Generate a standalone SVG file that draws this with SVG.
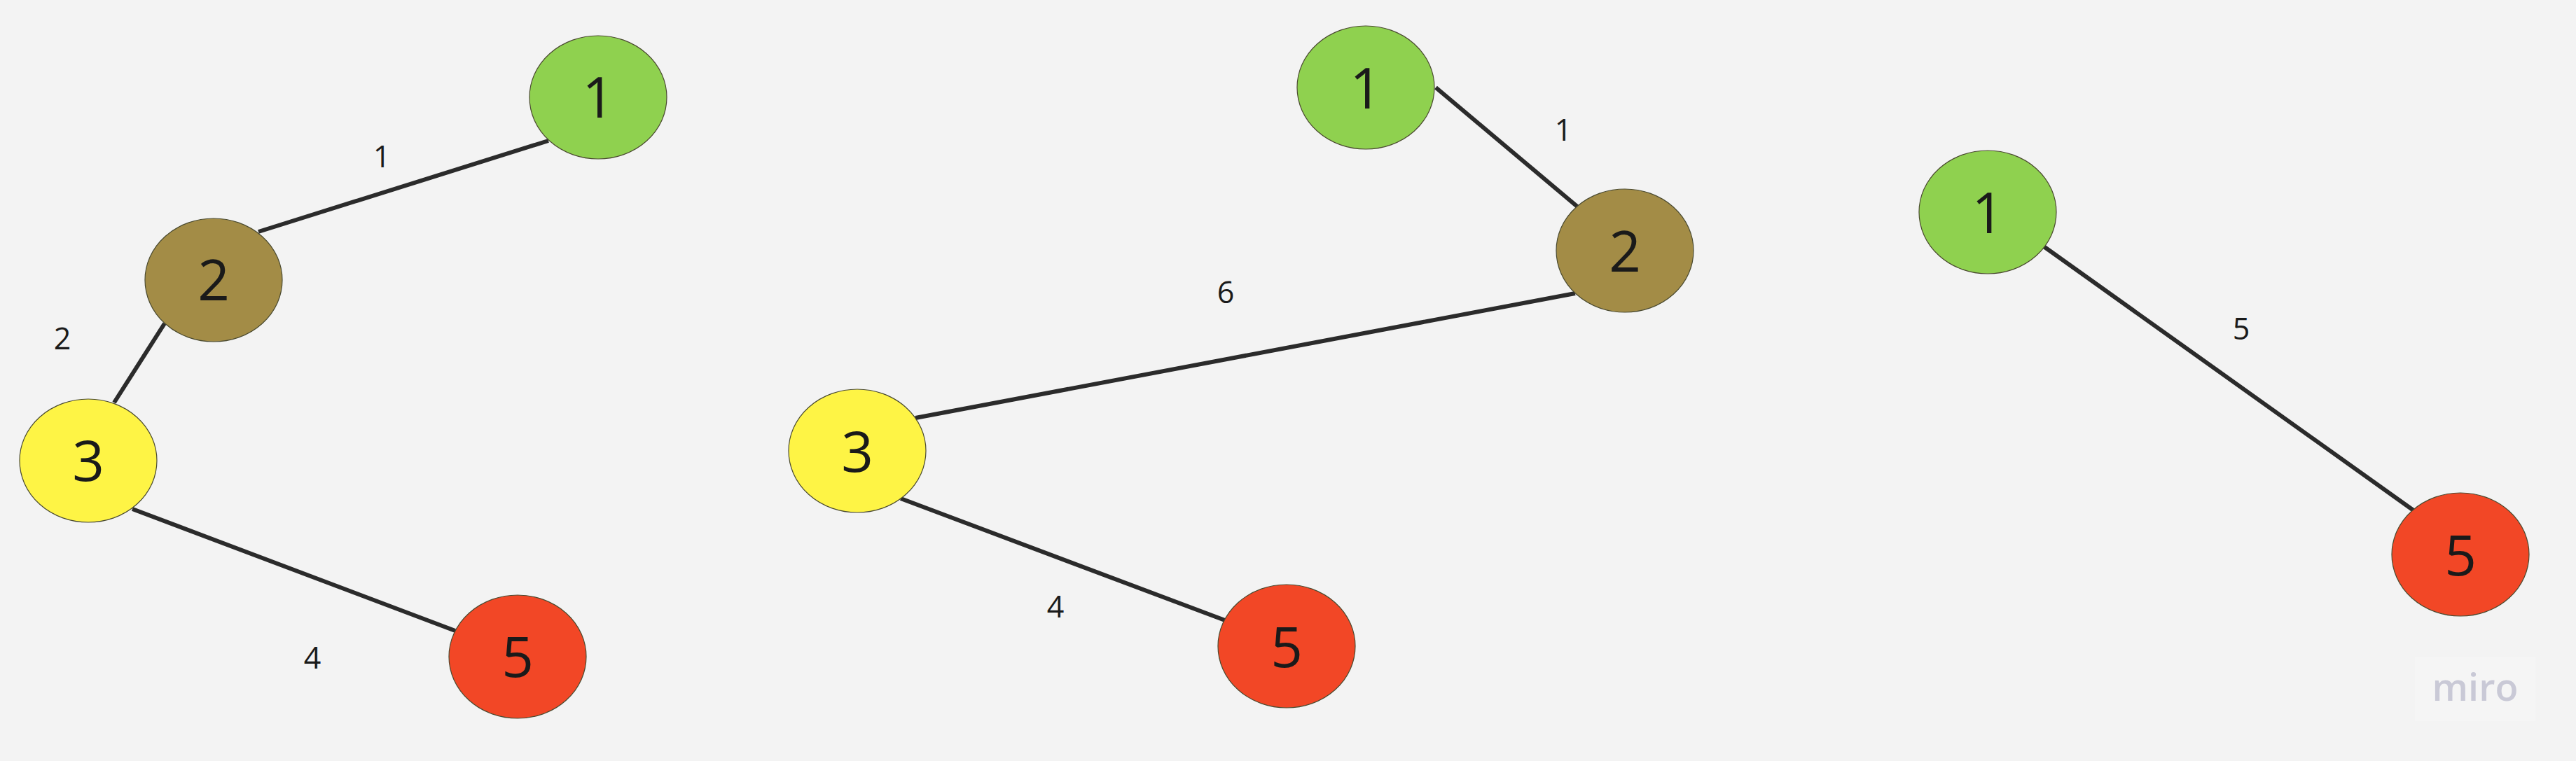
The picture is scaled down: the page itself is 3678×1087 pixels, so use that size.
<svg xmlns="http://www.w3.org/2000/svg" width="3678" height="1087" viewBox="0 0 3678 1087">
<style>
.bg{fill:#f3f3f3}
.n{stroke:#4a4a30;stroke-width:1.2}
.g{fill:#8fd14f}.o{fill:#a38c46}.y{fill:#fef445}.r{fill:#f24726}
.nt{font-family:"Open Sans","Noto Sans",sans-serif;font-size:80px;fill:#1a1a1a;text-anchor:middle}
.et{font-family:"Open Sans","Noto Sans",sans-serif;font-size:43px;fill:#1a1a1a;text-anchor:middle}
.e{stroke:#2b2b2b;stroke-width:6;fill:none}
</style>
<rect class="bg" x="0" y="0" width="3678" height="1087"/>
<g id="connectors">
<line class="e" x1="783" y1="201" x2="369" y2="331"/>
<line class="e" x1="235" y1="462" x2="163" y2="575"/>
<line class="e" x1="189" y1="727" x2="650" y2="901"/>
<line class="e" x1="2050" y1="125" x2="2252" y2="295"/>
<line class="e" x1="2249" y1="419" x2="1307" y2="597"/>
<line class="e" x1="1286" y1="712" x2="1749" y2="886"/>
<line class="e" x1="2918" y1="352" x2="3446" y2="729"/>
<text class="et" x="545" y="239">1</text>
<text class="et" x="89" y="499">2</text>
<text class="et" x="446" y="955">4</text>
<text class="et" x="2232" y="201">1</text>
<text class="et" x="1750" y="433">6</text>
<text class="et" x="1507" y="882">4</text>
<text class="et" x="3200" y="485">5</text>
</g>
<g id="a1"><ellipse class="n g" cx="854" cy="139" rx="98" ry="88"/><text class="nt" x="854" y="168">1</text></g>
<g id="a2"><ellipse class="n o" cx="305" cy="400" rx="98" ry="88"/><text class="nt" x="305" y="429">2</text></g>
<g id="a3"><ellipse class="n y" cx="126" cy="658" rx="98" ry="88"/><text class="nt" x="126" y="687">3</text></g>
<g id="a5"><ellipse class="n r" cx="739" cy="938" rx="98" ry="88"/><text class="nt" x="739" y="967">5</text></g>
<g id="b1"><ellipse class="n g" cx="1950" cy="125" rx="98" ry="88"/><text class="nt" x="1950" y="155">1</text></g>
<g id="b2"><ellipse class="n o" cx="2320" cy="358" rx="98" ry="88"/><text class="nt" x="2320" y="388">2</text></g>
<g id="b3"><ellipse class="n y" cx="1224" cy="644" rx="98" ry="88"/><text class="nt" x="1224" y="674">3</text></g>
<g id="b5"><ellipse class="n r" cx="1837" cy="923" rx="98" ry="88"/><text class="nt" x="1837" y="953">5</text></g>
<g id="c1"><ellipse class="n g" cx="2838" cy="303" rx="98" ry="88"/><text class="nt" x="2838" y="333">1</text></g>
<g id="c5"><ellipse class="n r" cx="3513" cy="792" rx="98" ry="88"/><text class="nt" x="3513" y="822">5</text></g>
<g id="logo">
<rect x="3448" y="938" width="172" height="92" fill="#f5f5f5"/>
<text x="3534" y="1001" font-family="Open Sans, Noto Sans, sans-serif" font-weight="600" font-size="54px" fill="#c9c9d6" text-anchor="middle">miro</text>
</g>
</svg>
